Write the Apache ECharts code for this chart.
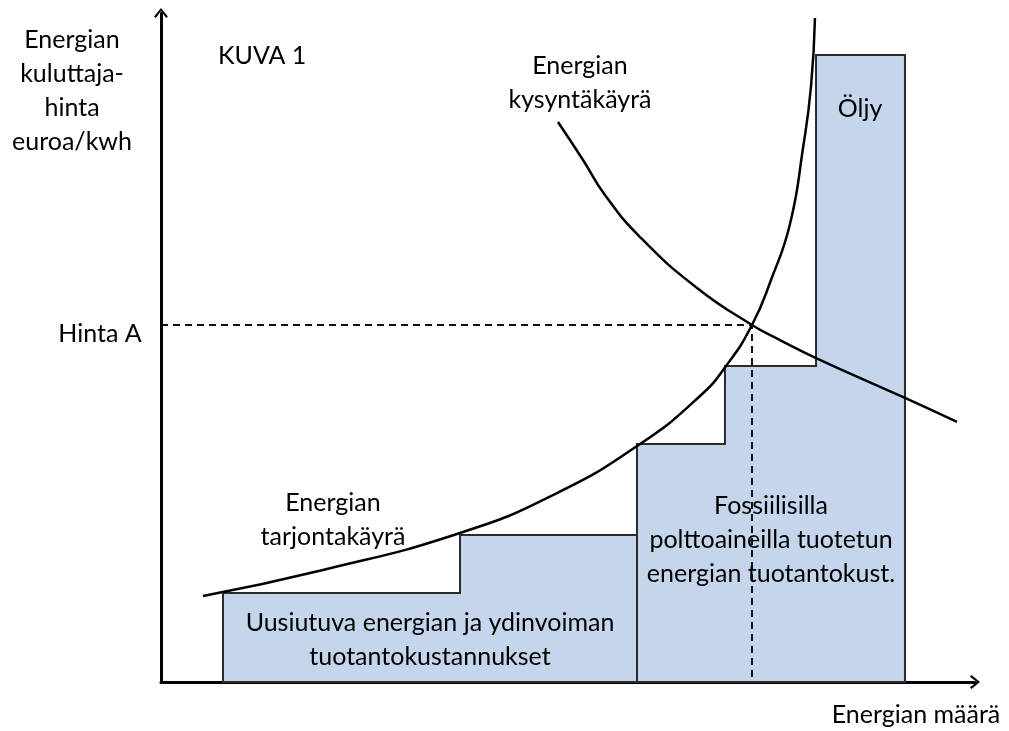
<!DOCTYPE html>
<html>
<head>
<meta charset="utf-8">
<title>KUVA 1</title>
<script src="https://cdn.jsdelivr.net/npm/echarts@6/dist/echarts.min.js"></script>
<style>
  html, body { margin: 0; padding: 0; background: #fff; }
  #chart { width: 1009px; height: 731px; }
</style>
</head>
<body>
<div id="chart"></div>
<script>
// step blocks (x edges and block heights), 0..100 scale
const renewEdges = [7.57, 36.51, 58.12];
const renewTops = [13.2, 21.81];
const fossilEdges = [58.12, 68.86, 79.98, 90.84];
const fossilTops = [35.31, 46.88, 93.03];

// curves
const supplyX = [5.13, 19.78, 36.51, 48.11, 58.49, 65.81, 68.99, 72.16, 74.48, 76.8, 78.39, 79.37, 79.85];
const supplyY = [12.76, 16.62, 22.11, 27.89, 35.31, 42.43, 46.88, 52.97, 59.64, 67.95, 79.23, 88.43, 98.52];
const demandX = [48.47, 51.53, 54.21, 58.49, 65.45, 72.16, 75.58, 79.98, 90.84, 97.19];
const demandY = [83.09, 77.45, 72.26, 66.02, 58.46, 52.97, 50.74, 48.07, 42.14, 38.58];

// equilibrium (Hinta A)
const eqX = 72.16;
const hintaA = 52.97;

const blocks = [
  { edges: renewEdges, tops: renewTops },
  { edges: fossilEdges, tops: fossilTops },
];

const zip = (xs, ys) => xs.map((x, i) => [x, ys[i]]);

const chart = echarts.init(document.getElementById("chart"));

const font = "Lato, 'Noto Sans', sans-serif";
const txt = (text, x, y, align) => ({
  type: "text",
  z: 100,
  style: {
    text,
    x,
    y,
    align: align || "center",
    verticalAlign: "middle",
    fontFamily: font,
    fontSize: 25,
    lineHeight: 34,
    fill: "#000",
  },
});

// open chevron for axis ends (points up, echarts rotates it)
const chevron = "path://M0,10 L8,0 L16,10 L14,11.6 L8,3.6 L2,11.6 Z";

const axisCommon = {
  type: "value",
  min: 0,
  splitLine: { show: false },
  axisTick: { show: false },
  axisLabel: { show: false },
  axisLine: {
    show: true,
    symbol: ["none", chevron],
    symbolSize: [14, 10],
    lineStyle: { color: "#000", width: 3 },
  },
};

const option = {
  animation: false,
  grid: { left: 161, top: 13, right: 34, bottom: 49 },
  xAxis: { ...axisCommon, max: 99.39 },
  yAxis: { ...axisCommon, max: 99.26 },
  series: [
    {
      type: "custom",
      z: 2,
      data: blocks.map((b, i) => [i]),
      renderItem: (params, api) => {
        const b = blocks[api.value(0)];
        const pts = [[b.edges[0], 0]];
        b.tops.forEach((t, i) => {
          pts.push([b.edges[i], t]);
          pts.push([b.edges[i + 1], t]);
        });
        pts.push([b.edges[b.edges.length - 1], 0]);
        return {
          type: "polygon",
          shape: { points: pts.map((p) => api.coord(p)) },
          style: { fill: "#c5d6ec", stroke: "#2b2b2b", lineWidth: 2 },
        };
      },
    },
    {
      name: "tarjonta",
      type: "line",
      z: 4,
      data: zip(supplyX, supplyY),
      smooth: 0.5,
      showSymbol: false,
      lineStyle: { color: "#000", width: 2.5 },
    },
    {
      name: "kysyntä",
      type: "line",
      z: 4,
      data: zip(demandX, demandY),
      smooth: 0.5,
      showSymbol: false,
      lineStyle: { color: "#000", width: 2.5 },
    },
    {
      name: "hinta A",
      type: "line",
      z: 3,
      data: [[0, hintaA], [eqX, hintaA], [eqX, 0]],
      showSymbol: false,
      lineStyle: { color: "#111", width: 2, type: [7, 5] },
    },
  ],
  graphic: [
    txt("Energian\nkuluttaja-\nhinta\neuroa/kwh", 72, 91),
    txt("KUVA 1", 218, 56, "left"),
    txt("Energian\nkysyntäkäyrä", 580, 83),
    txt("Öljy", 860, 109),
    txt("Hinta A", 100, 334),
    txt("Energian\ntarjontakäyrä", 333, 520),
    txt("Uusiutuva energian ja ydinvoiman\ntuotantokustannukset", 430, 640),
    txt("Fossiilisilla\npolttoaineilla tuotetun\nenergian tuotantokust.", 771, 540),
    txt("Energian määrä", 916, 715),
  ],
};

chart.setOption(option);
window.addEventListener("resize", chart.resize);
</script>
</body>
</html>
